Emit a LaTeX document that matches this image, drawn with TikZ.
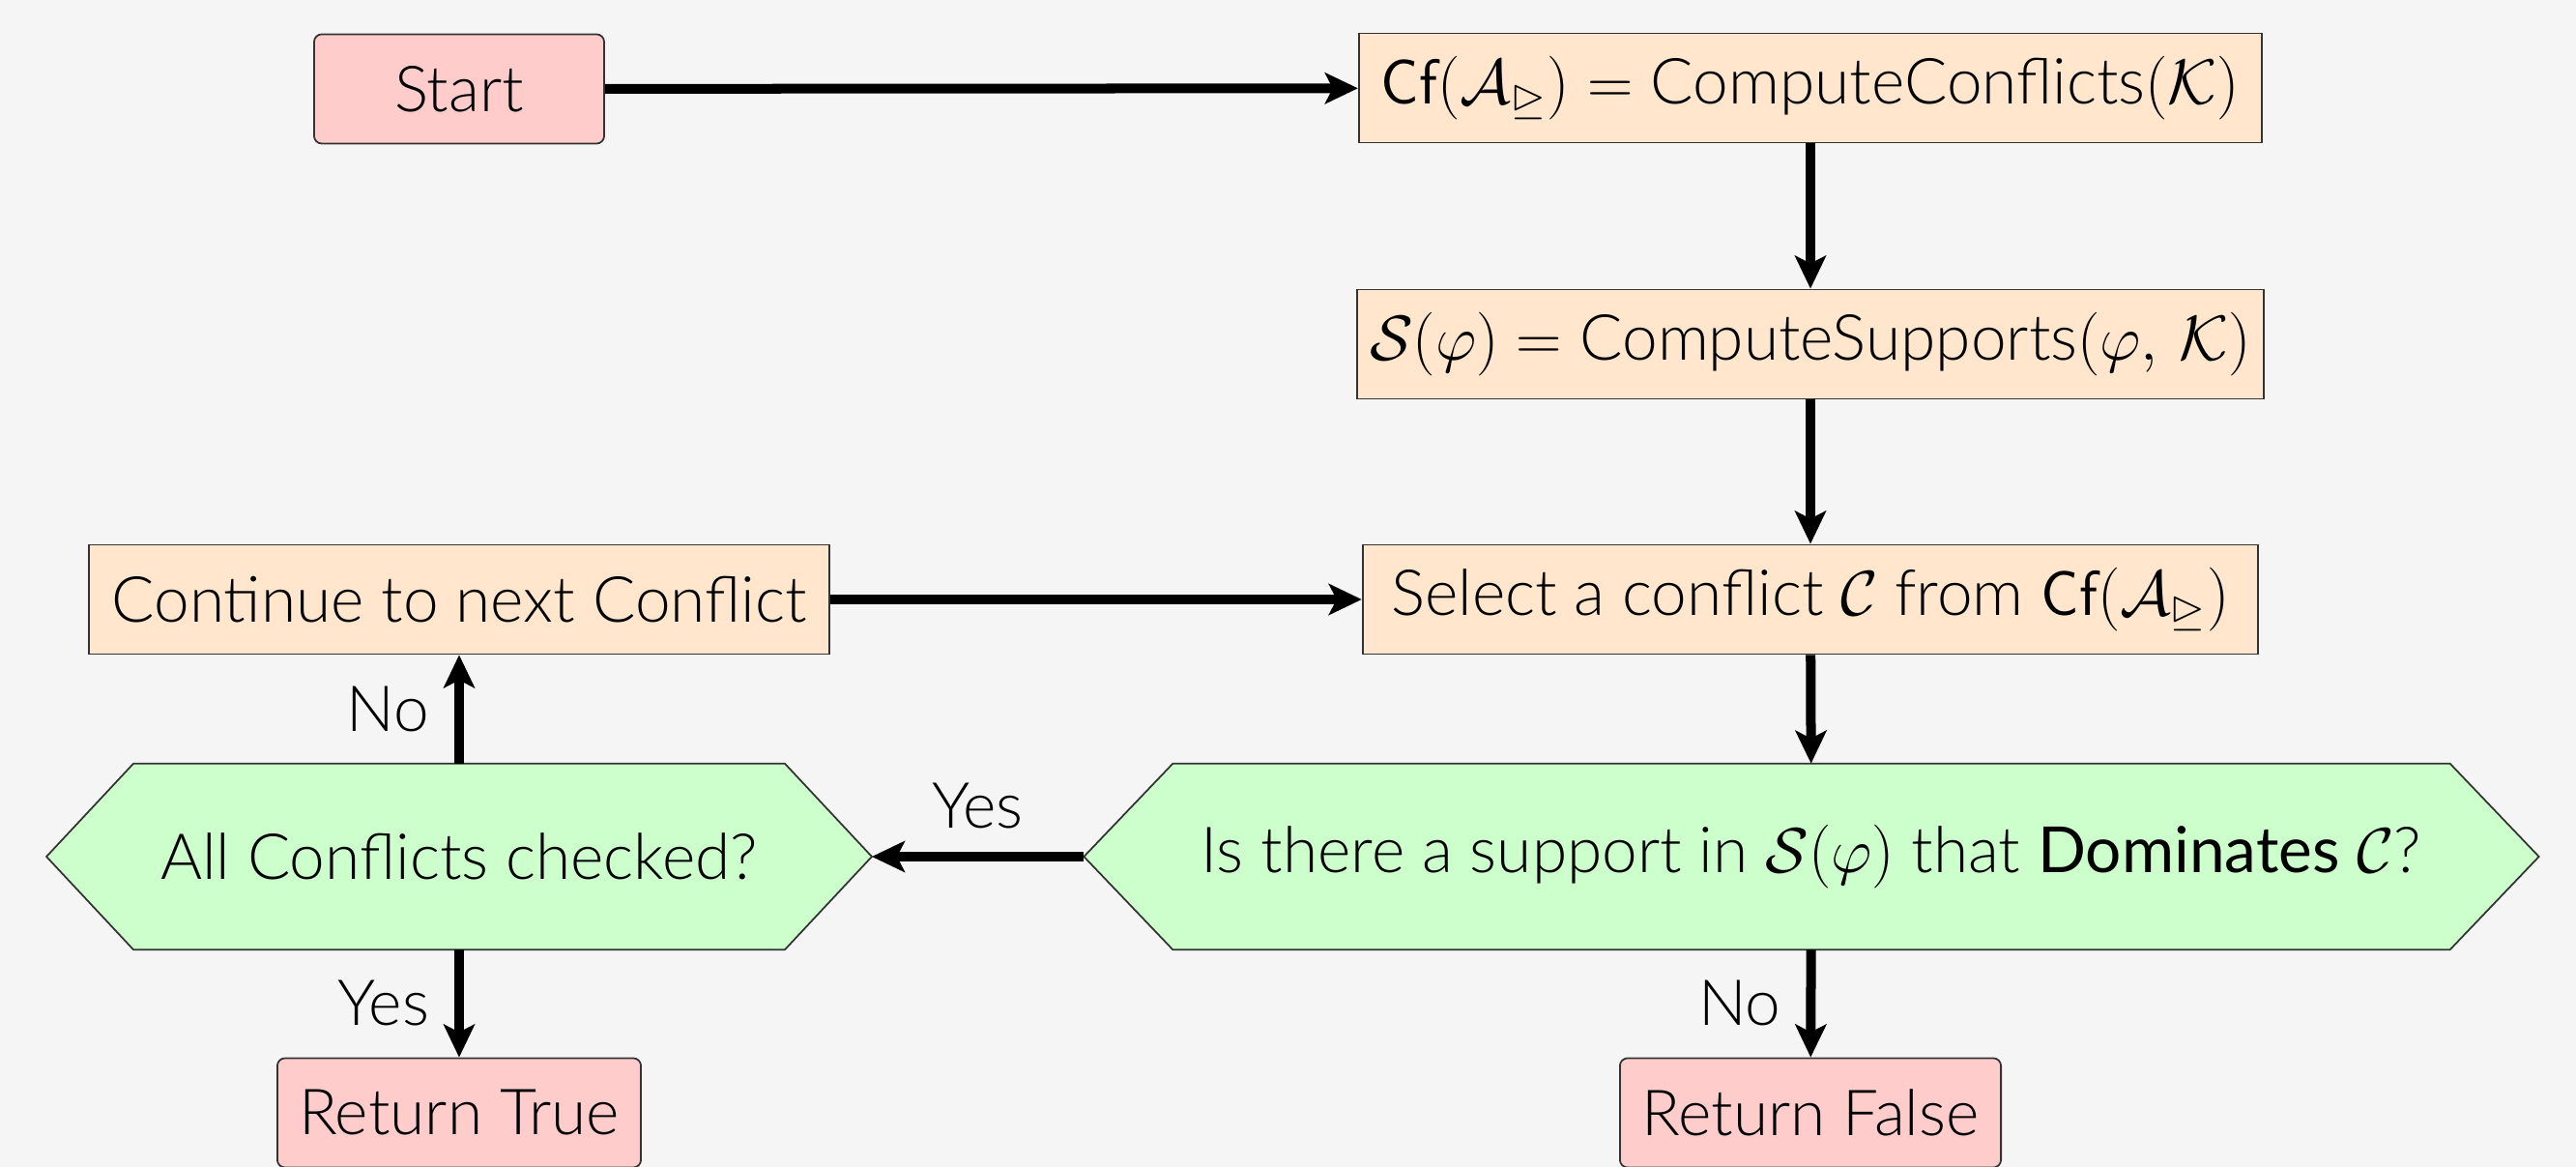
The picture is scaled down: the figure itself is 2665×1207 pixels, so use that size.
\documentclass[tikz,border=0pt]{standalone}
\usepackage{fix-cm}
\usepackage{amsmath,amssymb}
\usepackage{fontspec}
\setmainfont{Lato}[UprightFont={* Light},ItalicFont={* Light Italic},BoldFont={*}]
\newfontfamily\latoreg{Lato}
\usetikzlibrary{arrows.meta,calc}
\definecolor{bgc}{HTML}{F5F5F5}
\definecolor{procfill}{HTML}{FFE6CC}
\definecolor{termfill}{HTML}{FFCCCC}
\definecolor{decfill}{HTML}{CCFFCC}
\pgfdeclarelayer{back}
\pgfdeclarelayer{shapes}
\pgfsetlayers{back,shapes,main}
\newcommand{\Cf}{\mathsf{Cf}}
\tikzset{
  every node/.style={font=\fontsize{18.7}{22}\selectfont},
  procbox/.style={draw=black!80, line width=0.5pt, fill=procfill, minimum height=1.13cm, inner sep=0pt},
  termbox/.style={draw=black!80, line width=0.5pt, fill=termfill, minimum height=1.13cm, rounded corners=0.08cm, inner sep=0pt},
  decbox/.style={minimum height=1.91cm, inner sep=0pt},
  flow/.style={line width=0.1cm, -{Stealth[length=0.34cm,width=0.32cm,inset=0.08cm]}},
  sidelbl/.style={left, inner sep=0.26cm},
  toplbl/.style={anchor=base, yshift=0.29cm, inner sep=0pt}
}
\newcommand{\hexagon}[2]{%
  \begin{pgfonlayer}{shapes}
    \draw[draw=black!80, line width=0.5pt, fill=decfill]
      ($(#1.north west)+(#2,0)$) -- ($(#1.north east)+(-#2,0)$) -- (#1.east)
      -- ($(#1.south east)+(-#2,0)$) -- ($(#1.south west)+(#2,0)$) -- (#1.west) -- cycle;
  \end{pgfonlayer}}
\begin{document}
\begin{tikzpicture}[x=0.01cm,y=-0.01cm]
  \begin{pgfonlayer}{back}
    \fill[bgc] (0,0) rectangle (2665,1207);
  \end{pgfonlayer}
  \useasboundingbox (0,0) rectangle (2665,1207);

  % process column
  \node[termbox, minimum width=3.00cm] (start) at (475,92) {Start};
  \node[procbox, minimum width=9.34cm] (cf) at (1873,91)
    {$\Cf(\mathcal{A}_{\trianglerighteq}) = {}$ComputeConflicts$(\mathcal{K})$};
  \node[procbox, minimum width=9.38cm] (sup) at (1873,356)
    {$\mathcal{S}(\varphi) = {}$ComputeSupports$(\varphi,\,\mathcal{K})$};
  \node[procbox, minimum width=9.26cm] (sel) at (1873,620)
    {Select a conflict $\mathcal{C}$ from $\Cf(\mathcal{A}_{\trianglerighteq})$};
  \node[procbox, minimum width=7.66cm] (cont) at (475,620) {Continue to next Conflict};

  % decisions
  \node[decbox, minimum width=15.03cm] (dom) at (1874,886)
    {Is there a support in $\mathcal{S}(\varphi)$ that {\latoreg Dominates} $\mathcal{C}$?};
  \hexagon{dom}{92}
  \node[decbox, minimum width=8.52cm] (all) at (475,886) {All Conflicts checked?};
  \hexagon{all}{90}

  % results
  \node[termbox, minimum width=3.76cm] (rt) at (475,1151) {Return True};
  \node[termbox, minimum width=3.94cm] (rf) at (1873,1151) {Return False};

  % connectors
  \draw[flow] (start) -- (cf);
  \draw[flow] (cf) -- (sup);
  \draw[flow] (sup) -- (sel);
  \draw[flow] (cont) -- (sel);
  \draw[flow] (sel) -- (dom);
  \draw[flow] (dom.west) -- node[toplbl] {Yes} (all.east);
  \draw[flow] (all) -- node[sidelbl] {No} (cont);
  \draw[flow] (all) -- node[sidelbl] {Yes} (rt);
  \draw[flow] (dom) -- node[sidelbl] {No} (rf);
\end{tikzpicture}
\end{document}
